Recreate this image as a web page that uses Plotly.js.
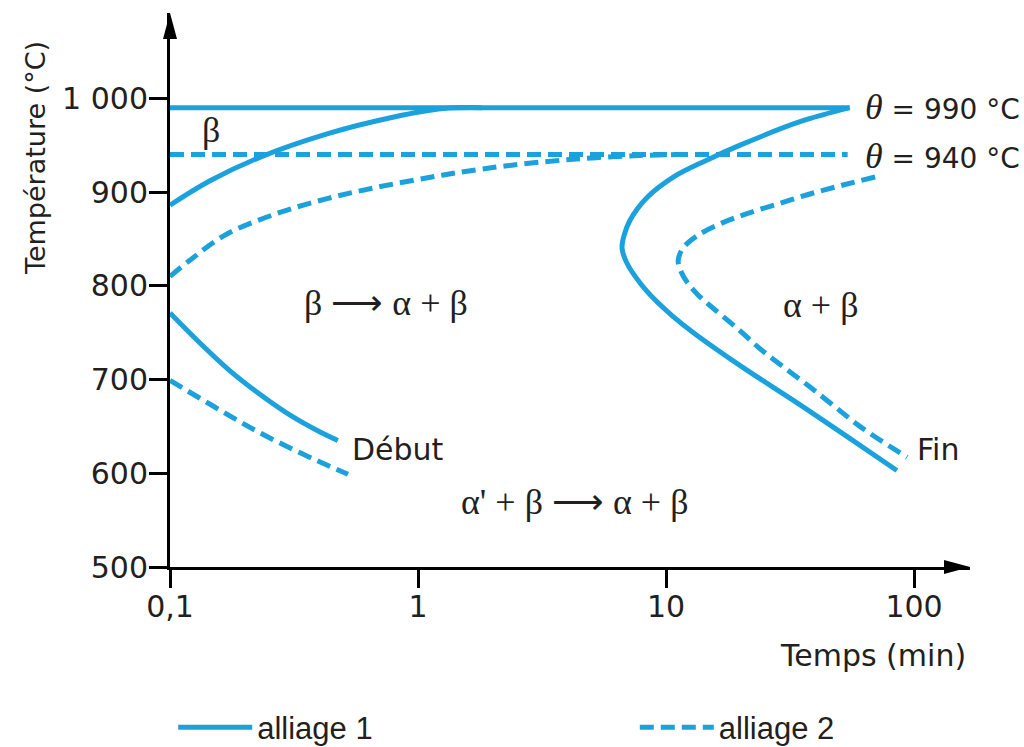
<!DOCTYPE html>
<html>
<head>
<meta charset="utf-8">
<script src="https://cdn.plot.ly/plotly-3.0.1.min.js"></script>
<style>
  html, body { margin: 0; padding: 0; background: #fff; }
  #plot { width: 1024px; height: 747px; }
</style>
</head>
<body>
<div id="plot"></div>
<script>
// temps en minutes, températures en °C
var palier1T = [0.1, 55];            // alliage 1, θ = 990 °C
var palier1Y = [990, 990];
var palier2T = [0.1, 54];            // alliage 2, θ = 940 °C
var palier2Y = [940, 940];

// courbes de début de transformation
var debut1HautT = [0.1, 0.145, 0.23, 0.43, 0.8, 1.26, 1.8];
var debut1HautY = [886, 912, 937, 962, 980, 989, 990];
var debut1BasT = [0.1, 0.132, 0.175, 0.231, 0.305, 0.403, 0.475];
var debut1BasY = [771, 739, 709, 684, 662, 644, 635];

var debut2HautT = [0.1, 0.124, 0.169, 0.269, 0.43, 0.68, 1.08, 1.47, 2.28, 4.23, 7.85, 11];
var debut2HautY = [810, 830, 855, 877, 893, 905, 915, 921, 928, 935, 939, 940];
var debut2BasT = [0.1, 0.132, 0.175, 0.231, 0.305, 0.403, 0.522];
var debut2BasY = [699, 680, 661, 643, 627, 612, 599];

// courbes de fin de transformation
var fin1T = [55, 34.7, 19.9, 14.6, 10.7, 8.37, 7.16, 6.78, 6.65, 6.96, 7.86, 9.03, 10.6, 12.9, 20.4, 32.5, 51.8, 85.3];
var fin1Y = [990, 975, 950, 934, 916, 894, 870, 854, 840, 824, 803, 785, 768, 750, 713, 678, 642, 603];
var fin2T = [69.7, 52.7, 39.2, 28.8, 21.2, 16.5, 13.3, 11.7, 11.2, 11.5, 12.3, 13.5, 15.5, 19.3, 23.9, 30.2, 38.1, 48.0, 60.5, 93.8];
var fin2Y = [916, 908, 899, 888, 877, 866, 853, 840, 827, 815, 802, 790, 776, 755, 733, 712, 692, 671, 650, 617];

var xTickVals = [0.1, 1, 10, 100];
var xTickText = ['0,1', '1', '10', '100'];
var yTickVals = [500, 600, 700, 800, 900, 1000];
var yTickText = ['500', '600', '700', '800', '900', '1\u00a0000'];

var BLEU = '#1ba1dc';
var ENCRE = '#231f20';
var SANS = 'DejaVu Sans, Verdana, sans-serif';
var SERIF = 'Liberation Serif, Times New Roman, serif';
var LEG = 'Liberation Sans, Arial, sans-serif';

function courbe(x, y, pointille, nom, legende) {
  return {
    x: x, y: y, mode: 'lines', name: nom, showlegend: !!legende,
    legend: pointille ? 'legend2' : 'legend',
    legendgroup: pointille ? 'a2' : 'a1', hoverinfo: 'skip',
    line: { color: BLEU, width: 5, shape: 'spline', smoothing: 1, dash: pointille ? '14px,7px' : 'solid' }
  };
}

var traces = [
  courbe(palier1T, palier1Y, false, 'alliage 1', true),
  courbe(palier2T, palier2Y, true, 'alliage 2', true),
  courbe(debut1HautT, debut1HautY, false, 'alliage 1'),
  courbe(debut1BasT, debut1BasY, false, 'alliage 1'),
  courbe(debut2HautT, debut2HautY, true, 'alliage 2'),
  courbe(debut2BasT, debut2BasY, true, 'alliage 2'),
  courbe(fin1T, fin1Y, false, 'alliage 1'),
  courbe(fin2T, fin2Y, true, 'alliage 2')
];

function lbl(x, y, txt, opts) {
  var a = { x: x, y: y, xref: 'x', yref: 'y', text: txt, showarrow: false,
            font: { family: SERIF, size: 36, color: ENCRE }, xanchor: 'center', yanchor: 'middle' };
  for (var k in opts) a[k] = opts[k];
  return a;
}
var sansFont = { family: SANS, size: 30, color: ENCRE };

function legende(x) {
  return {
    orientation: 'h', x: x, y: -0.29, xanchor: 'left', yanchor: 'middle',
    itemwidth: 74, bgcolor: 'rgba(0,0,0,0)',
    font: { family: LEG, size: 31, color: ENCRE }
  };
}

var layout = {
  width: 1024, height: 747,
  margin: { l: 170, r: 54, t: 13, b: 180, autoexpand: false },
  paper_bgcolor: '#fff', plot_bgcolor: '#fff',
  font: sansFont,
  showlegend: true,
  legend: legende(0.004),
  legend2: legende(0.581),
  xaxis: {
    type: 'log', range: [-1, 2.2258], showgrid: false, zeroline: false,
    showline: true, linecolor: '#000', linewidth: 3,
    ticks: 'outside', ticklen: 18, tickwidth: 3, tickcolor: '#000', ticklabelstandoff: -7,
    tickvals: xTickVals, ticktext: xTickText, tickfont: sansFont, fixedrange: true
  },
  yaxis: {
    range: [500, 1091], showgrid: false, zeroline: false,
    showline: true, linecolor: '#000', linewidth: 3,
    ticks: 'outside', ticklen: 18, tickwidth: 3, tickcolor: '#000', ticklabelstandoff: -5,
    tickvals: yTickVals, ticktext: yTickText, tickfont: sansFont, fixedrange: true
  },
  shapes: [
    { type: 'path', xref: 'paper', yref: 'paper', xsizemode: 'pixel', ysizemode: 'pixel',
      xanchor: 1, yanchor: 0, path: 'M-26,-7 L0,0 L-26,7 Z', fillcolor: '#000', line: { width: 0 } },
    { type: 'path', xref: 'paper', yref: 'paper', xsizemode: 'pixel', ysizemode: 'pixel',
      xanchor: 0, yanchor: 1, path: 'M-7,-26 L0,0 L7,-26 Z', fillcolor: '#000', line: { width: 0 } }
  ],
  annotations: [
    { xref: 'paper', yref: 'paper', x: -0.169, y: 0.738, xanchor: 'center', yanchor: 'middle',
      text: 'Température (°C)', textangle: -90,
      showarrow: false, font: { family: SANS, size: 27, color: ENCRE } },
    { xref: 'paper', yref: 'paper', x: 0.9975, y: -0.159, text: 'Temps (min)', xanchor: 'right', yanchor: 'middle',
      showarrow: false, font: sansFont },
    lbl(-0.835, 966, 'β'),
    lbl(-0.129, 782, 'β ⟶ α + β'),
    lbl(1.621, 779, 'α + β'),
    lbl(0.633, 569, "α' + β ⟶ α + β"),
    lbl(-0.274, 625, 'Début', { xanchor: 'left', font: sansFont }),
    lbl(2.004, 625, 'Fin', { xanchor: 'left', font: sansFont }),
    lbl(1.794, 991, '<i>θ</i><span style="font-family:DejaVu Sans;font-size:28px"> = 990 °C</span>', { xanchor: 'left' }),
    lbl(1.794, 938, '<i>θ</i><span style="font-family:DejaVu Sans;font-size:28px"> = 940 °C</span>', { xanchor: 'left' })
  ]
};

Plotly.newPlot('plot', traces, layout, { displayModeBar: false, staticPlot: true });
</script>
</body>
</html>
